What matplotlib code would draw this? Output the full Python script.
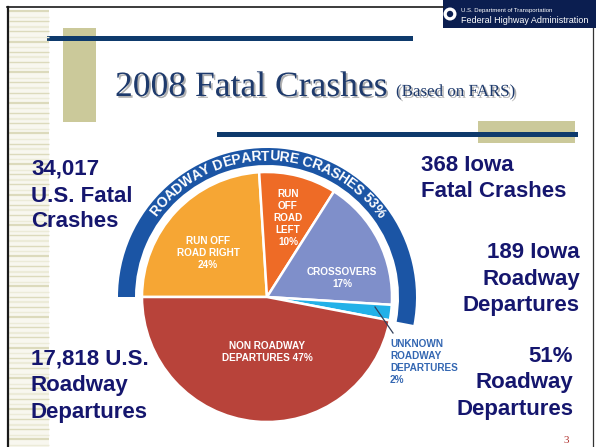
import numpy as np
import matplotlib
matplotlib.use('Agg')
import matplotlib.pyplot as plt
import matplotlib.patheffects as pe
from matplotlib.patches import Rectangle, Circle
from matplotlib.font_manager import FontProperties, findfont
from matplotlib.ft2font import FT2Font

# ---------------- data ----------------
slice_labels = ['RUN OFF\nROAD RIGHT\n24%', 'RUN\nOFF\nROAD\nLEFT\n10%',
                'CROSSOVERS\n17%', '', 'NON ROADWAY\nDEPARTURES 47%']
slice_shares = [24, 10, 17, 2, 47]
roadway_split = [53, 47]
arc_label = 'ROADWAY DEPARTURE CRASHES 53%'
unknown_label = 'UNKNOWN\nROADWAY\nDEPARTURES\n2%'
title_text = '2008 Fatal Crashes'
subtitle_text = '(Based on FARS)'
note_us_fatal = ['34,017', 'U.S. Fatal', 'Crashes']
note_us_rd = ['17,818 U.S.', 'Roadway', 'Departures']
note_ia_fatal = ['368 Iowa', 'Fatal Crashes']
note_ia_rd = ['189 Iowa', 'Roadway', 'Departures']
note_ia_pct = ['51%', 'Roadway', 'Departures']
page_number = '3'

# ---------------- style ----------------
W, H = 596, 447
slice_colors = ['#F6A634', '#EE6B26', '#7F8FCA', '#23B1E8', '#B8433A']
arc_color = '#1B55A5'
navy = '#15166E'
title_color = '#1E3A6C'
khaki = '#CBC99A'
bar_blue = '#0E3A6C'

fig = plt.figure(figsize=(W / 100, H / 100), dpi=100)
ax = fig.add_axes([0, 0, 1, 1])

def Y(y):
    return H - y

# ---------- slide decorations ----------
ax.add_patch(Rectangle((9, 0), 40, Y(10), facecolor='#F8F7EF', edgecolor='none'))
yy = 11.0
k = 0
while yy < H:
    c = '#DCDABC' if k % 2 == 0 else '#ECEBD8'
    lw = 1.4 if k % 3 else 2.2
    ax.plot([9, 49], [Y(yy), Y(yy)], color=c, lw=lw * 0.72, solid_capstyle='butt')
    yy += 5.6 if k % 2 == 0 else 4.6
    k += 1

ax.plot([7.5, 7.5], [0, Y(6.5)], color='#1a1a1a', lw=1.6)
ax.plot([6.7, 443], [Y(6.5), Y(6.5)], color='#1a1a1a', lw=1.2)
ax.plot([593, 593], [0, Y(28)], color='#333333', lw=0.9)

ax.add_patch(Rectangle((63, Y(122)), 33, 94, facecolor=khaki, edgecolor='none'))
ax.add_patch(Rectangle((47, Y(41)), 366, 5, facecolor=bar_blue, edgecolor='none'))
ax.add_patch(Rectangle((478, Y(143)), 97, 22, facecolor=khaki, edgecolor='none'))
ax.add_patch(Rectangle((217, Y(136.5)), 361, 5, facecolor=bar_blue, edgecolor='none'))

# logo
ax.add_patch(Rectangle((443, Y(28)), 153, 28, facecolor='#0B1E50', edgecolor='none'))
ax.add_patch(Circle((450, Y(14)), 6.5, facecolor='white', edgecolor='none'))
ax.add_patch(Circle((450, Y(14)), 3.2, facecolor='#0B1E50', edgecolor='none'))
ax.text(461, Y(12), 'U.S. Department of Transportation', fontsize=4.3, color='white',
        family='Liberation Sans', va='baseline', ha='left')
ax.text(461, Y(23), 'Federal Highway Administration', fontsize=6.5, color='white',
        family='Liberation Sans', va='baseline', ha='left', clip_on=True)

# title with shadow
shadow = [pe.withSimplePatchShadow(offset=(1.3, -1.3), shadow_rgbFace='#B0B0B0', alpha=1.0)]
ax.text(115, Y(96), title_text, fontsize=25.6, color=title_color,
        family='Liberation Serif', va='baseline', ha='left', path_effects=shadow)
ax.text(396, Y(96), subtitle_text, fontsize=12.2, color=title_color,
        family='Liberation Serif', va='baseline', ha='left', path_effects=shadow)

# ---------------- pie ----------------
cx, cy = 267, Y(297)
R = 125
wedges, _ = ax.pie(slice_shares, colors=slice_colors, startangle=180, counterclock=False,
                   center=(cx, cy), radius=R, frame=True,
                   wedgeprops=dict(edgecolor='white', linewidth=1.8))
ax.pie(roadway_split, colors=[arc_color, (1, 1, 1, 0)], startangle=180, counterclock=False,
       center=(cx, cy), radius=149, frame=True,
       wedgeprops=dict(width=17, edgecolor='none', linewidth=0))

# labels inside slices
label_pos = [(208, 253), (288, 218), (342, 278), None, (267, 352)]
for lab, pos in zip(slice_labels, label_pos):
    if pos is None or not lab:
        continue
    ax.text(pos[0], Y(pos[1]), lab, fontsize=7.2, color='white', weight='bold',
            family='Liberation Sans', ha='center', va='center', linespacing=1.25)

# unknown label + leader
ax.plot([375, 393], [Y(307), Y(333)], color='#34405A', lw=0.9)
ax.text(390, Y(362), unknown_label, fontsize=7.2, color='#3467B2', weight='bold',
        family='Liberation Sans', ha='left', va='center', linespacing=1.22)

# curved arc label
fp = FontProperties(family='Liberation Sans', weight='bold')
ft = FT2Font(findfont(fp))
ft.set_size(10, 72)
adv = []
for ch in arc_label:
    g = ft.load_char(ord(ch))
    adv.append(g.linearHoriAdvance / 65536.0)
adv = np.array(adv)
a_start, a_end = np.radians(144), np.radians(35)
r_txt = 140.5
L = r_txt * (a_start - a_end)
fs = 10 * L / (adv.sum() * 100 / 72)
adv_px = adv * fs / 10 * 100 / 72
centers = np.cumsum(adv_px) - adv_px / 2
for ch, s in zip(arc_label, centers):
    th = a_start - s / r_txt
    ax.text(cx + r_txt * np.cos(th), cy + r_txt * np.sin(th), ch, fontsize=fs,
            color='white', weight='bold', family='Liberation Sans',
            rotation=np.degrees(th) - 90, rotation_mode='anchor',
            ha='center', va='center')

# ---------------- side notes ----------------
def lines(x, baselines, texts, ha):
    for b, t in zip(baselines, texts):
        ax.text(x, Y(b), t, fontsize=16, color=navy, weight='bold',
                family='Liberation Sans', ha=ha, va='baseline')

lines(31, [175, 201.5, 227], note_us_fatal, 'left')
lines(31, [365, 391.5, 418], note_us_rd, 'left')
lines(421, [171, 197], note_ia_fatal, 'left')
lines(580, [258, 285, 311], note_ia_rd, 'right')
lines(573, [362, 388, 415], note_ia_pct, 'right')

ax.text(566, Y(443), page_number, fontsize=8, color='#B0302C',
        family='Liberation Serif', ha='center', va='baseline')

ax.set_xlim(0, W)
ax.set_ylim(0, H)
ax.set_aspect('auto')
ax.axis('off')
fig.savefig('out.png', dpi=100)
